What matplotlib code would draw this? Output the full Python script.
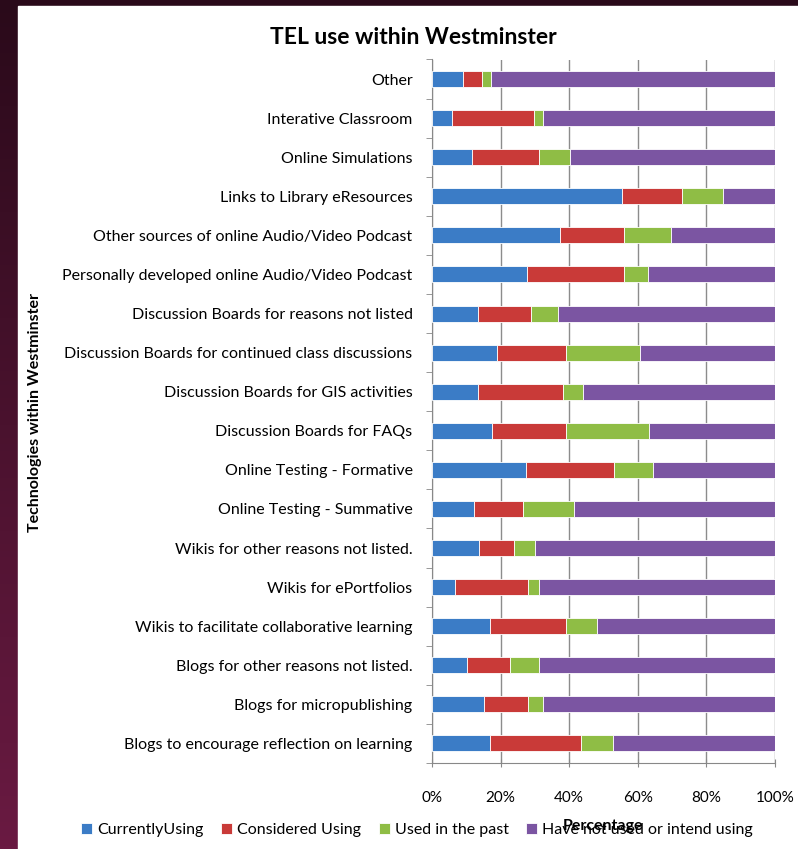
import numpy as np
import matplotlib
matplotlib.use("Agg")
import matplotlib.pyplot as plt
from matplotlib.patches import Rectangle
from matplotlib.colors import LinearSegmentedColormap

plt.rcParams['font.family'] = ['Lato', 'DejaVu Sans']

# categories, top to bottom
labels = [
    "Other",
    "Interative Classroom",
    "Online Simulations",
    "Links to Library eResources",
    "Other sources of online Audio/Video Podcast",
    "Personally developed online Audio/Video Podcast",
    "Discussion Boards for reasons not listed",
    "Discussion Boards for continued class discussions",
    "Discussion Boards for GIS activities",
    "Discussion Boards for FAQs",
    "Online Testing - Formative",
    "Online Testing - Summative",
    "Wikis for other reasons not listed.",
    "Wikis for ePortfolios",
    "Wikis to facilitate collaborative learning",
    "Blogs for other reasons not listed.",
    "Blogs for micropublishing",
    "Blogs to encourage reflection on learning",
]

currently = [9.1, 5.9, 11.8, 55.5, 37.3, 27.6, 13.5, 18.9, 13.5, 17.6, 27.4, 12.3, 13.8, 6.7, 16.9, 10.1, 15.1, 16.9]
considered = [5.4, 23.8, 19.5, 17.3, 18.8, 28.5, 15.4, 20.1, 24.8, 21.4, 25.8, 14.1, 10.1, 21.2, 22.1, 12.6, 13.0, 26.5]
used_past = [2.6, 2.8, 8.9, 12.1, 13.7, 6.9, 7.9, 21.5, 5.8, 24.4, 11.3, 15.1, 6.1, 3.3, 9.0, 8.5, 4.4, 9.5]
not_used = [82.9, 67.5, 59.8, 15.1, 30.2, 37.0, 63.2, 39.5, 55.9, 36.6, 35.5, 58.5, 70.0, 68.8, 52.0, 68.8, 67.5, 47.1]

series_names = ["CurrentlyUsing", "Considered Using", "Used in the past", "Have not used or intend using"]
series_vals = [currently, considered, used_past, not_used]
colors = ["#3b7cc6", "#c93a38", "#8fbd45", "#7b55a2"]

fig = plt.figure(figsize=(7.98, 8.49), dpi=100)

# dark maroon backdrop with white panel
bg = fig.add_axes([0, 0, 1, 1], zorder=-10)
cmap = LinearSegmentedColormap.from_list("bg", ["#6a1a42", "#2a0a1a"])
bg.imshow(np.linspace(0, 1, 256).reshape(-1, 1), aspect='auto', cmap=cmap,
          extent=[0, 1, 0, 1], origin='lower')
bg.add_patch(Rectangle((18 / 798, 0), 1, 1 - 6 / 849, color="white"))
bg.set_xlim(0, 1)
bg.set_ylim(0, 1)
bg.axis("off")

ax = fig.add_axes([432 / 798, 1 - 763 / 849, 343 / 798, 703.5 / 849])
y = np.arange(len(labels))
left = np.zeros(len(labels))
for name, vals, c in zip(series_names, series_vals, colors):
    vals = np.array(vals)
    vals = vals / 100.0
    ax.barh(y, vals, left=left, height=0.41, color=c, edgecolor="white",
            linewidth=0.6, label=name, zorder=3)
    left = left + vals

ax.set_ylim(len(labels) - 0.5, -0.5)
ax.set_xlim(0, 1)
ax.set_xticks(np.arange(0, 1.01, 0.2))
ax.set_xticklabels(["0%", "20%", "40%", "60%", "80%", "100%"], fontsize=11)
ax.set_yticks(y)
ax.set_yticklabels(labels, fontsize=11.5)
ax.set_yticks(np.arange(-0.5, len(labels), 1), minor=True)
ax.tick_params(axis='y', which='major', length=0, pad=14)
ax.tick_params(axis='y', which='minor', length=4, color="#888888", direction='out')
ax.tick_params(axis='x', length=6, color="#888888", direction='inout', pad=17)
ax.grid(axis='x', color="#8c8c8c", linewidth=1, zorder=0)
for s in ["top", "right"]:
    ax.spines[s].set_visible(False)
for s in ["left", "bottom"]:
    ax.spines[s].set_color("#888888")

fig.text(413 / 798, 1 - 37 / 849, "TEL use within Westminster", fontsize=16.5,
         fontweight="bold", ha="center", va="center")
fig.text(35 / 798, 1 - 412 / 849, "Technologies within Westminster", fontsize=11.5,
         fontweight="bold", rotation=90, ha="center", va="center")

handles, names = ax.get_legend_handles_labels()
fig.legend(handles, names, loc="center", bbox_to_anchor=(417 / 798, 1 - 830 / 849),
           ncol=4, frameon=False, fontsize=11.5, handlelength=0.7, handleheight=0.7,
           handletextpad=0.3, columnspacing=1.1)
fig.text(603 / 798, 1 - 826 / 849, "Percentage", fontsize=11.5, fontweight="bold",
         ha="center", va="center")

fig.savefig("out.png", dpi=100)
